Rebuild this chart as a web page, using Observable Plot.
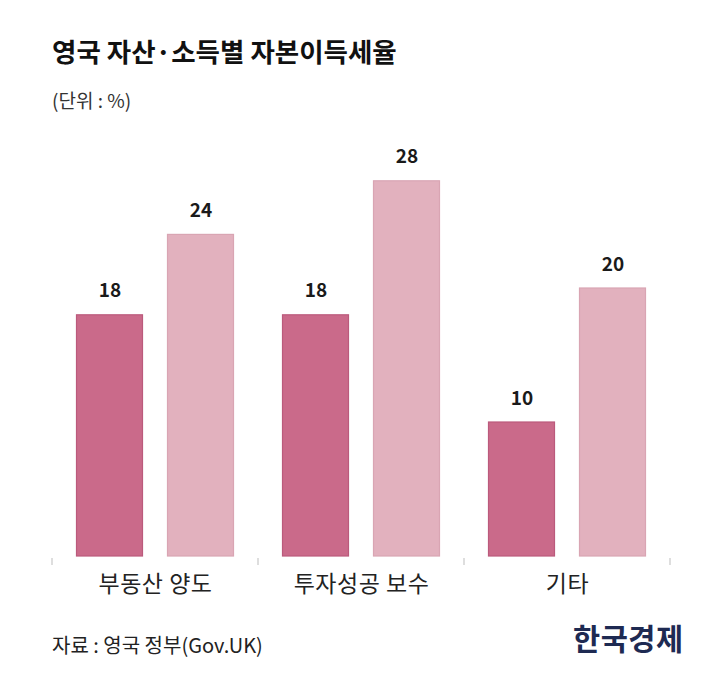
<!DOCTYPE html>
<html>
<head>
<meta charset="utf-8">
<script src="https://cdn.jsdelivr.net/npm/d3@7"></script>
<script src="https://cdn.jsdelivr.net/npm/@observablehq/plot@0.6"></script>
<style>
  html, body { margin: 0; padding: 0; background: #fff; overflow: hidden; }
  body { width: 720px; height: 681px; position: relative; font-family: "Noto Sans CJK KR", "Noto Sans", sans-serif; }
  #title { position: absolute; left: 52px; top: 33px; font-size: 26.5px; font-weight: 700; color: #111; line-height: 36px; letter-spacing: 0px; }
  #unit { position: absolute; left: 52px; top: 87px; font-size: 19px; color: #333; line-height: 26px; }
  #chart { position: absolute; left: 0; top: 130px; }
  #source { position: absolute; left: 52px; top: 631px; font-size: 20px; color: #222; line-height: 28px; letter-spacing: 0px; }
  #logo { position: absolute; left: 573px; top: 618px; font-size: 29.5px; font-weight: 700; color: #1e2a52; line-height: 38px; letter-spacing: 0.5px; }
  .fxaxis text { letter-spacing: 0.5px; }
</style>
</head>
<body>
<div id="title">영국 자산·소득별 자본이득세율</div>
<div id="unit">(단위 : %)</div>
<div id="chart"></div>
<div id="source">자료 : 영국 정부(Gov.UK)</div>
<div id="logo">한국경제</div>
<script>
const categories = ["부동산 양도", "투자성공 보수", "기타"];
const series = ["기본세율", "고세율"];
const basicRates = [18, 18, 10];
const higherRates = [24, 28, 20];
const seriesColors = ["#ca6a8a", "#e2b1be"];
const seriesStrokes = ["#bb5a7c", "#d9a5b3"];

const data = [];
categories.forEach((c, i) => {
  data.push({category: c, series: series[0], value: basicRates[i]});
  data.push({category: c, series: series[1], value: higherRates[i]});
});

const plot = Plot.plot({
  width: 720,
  height: 470,
  marginLeft: 52,
  marginRight: 50,
  marginTop: 24,
  marginBottom: 44,
  style: {fontFamily: "'Noto Sans CJK KR', 'Noto Sans', sans-serif", background: "#fff"},
  fx: {domain: categories, padding: 0, label: null},
  x: {domain: series, paddingInner: 0.26, paddingOuter: 0.26, axis: null},
  y: {domain: [0, 30], axis: null},
  color: {domain: series, range: seriesColors},
  marks: [
    Plot.barY(data, {
      fx: "category", x: "series", y: "value",
      fill: "series",
      stroke: d => seriesStrokes[series.indexOf(d.series)],
      strokeWidth: 1.2,
      insetLeft: 0.5, insetRight: 0.5
    }),
    Plot.text(data, {
      fx: "category", x: "series", y: "value",
      text: d => String(d.value),
      lineAnchor: "bottom",
      dy: -18,
      fontSize: 19,
      fontWeight: 700,
      fill: "#1a1a1a"
    }),
    Plot.axisFx({anchor: "bottom", tickSize: 0, tickPadding: 19, fontSize: 23, color: "#222", label: null, className: "fxaxis"})
  ]
});

document.getElementById("chart").appendChild(plot);

// boundary ticks below the baseline, placed from the fx band scale
const fx = plot.scale("fx");
const y = plot.scale("y");
const base = y.apply(0);
const bounds = categories.map(c => fx.apply(c));
bounds.push(fx.apply(categories[categories.length - 1]) + fx.bandwidth);
d3.select(plot).append("g")
  .attr("stroke", "#c8c8c8")
  .attr("stroke-width", 1.2)
  .selectAll("line")
  .data(bounds)
  .join("line")
  .attr("x1", d => d).attr("x2", d => d)
  .attr("y1", base + 2).attr("y2", base + 9);
</script>
</body>
</html>
